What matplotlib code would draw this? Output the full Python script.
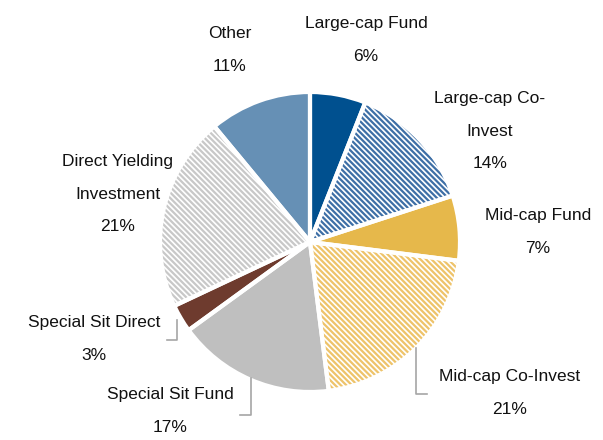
import matplotlib
matplotlib.use("Agg")
import matplotlib.pyplot as plt
from matplotlib import font_manager

names = {f.name for f in font_manager.fontManager.ttflist}
fam = [n for n in ["Liberation Sans Narrow", "Arial Narrow", "Liberation Sans", "DejaVu Sans"] if n in names]
plt.rcParams['font.family'] = fam
plt.rcParams['hatch.linewidth'] = 1.6

categories = ["Large-cap Fund", "Large-cap Co-\nInvest", "Mid-cap Fund", "Mid-cap Co-Invest",
              "Special Sit Fund", "Special Sit Direct", "Direct Yielding\nInvestment", "Other"]
values = [6, 14, 7, 21, 17, 3, 21, 11]
colors = ["#00508F", "#3E6FA6", "#E6B84B", "#EEC36A", "#BFBFBF", "#6E3B2E", "#C8C8C8", "#6690B5"]
hatched = [False, True, False, True, False, False, True, False]

W, H = 603, 440
fig = plt.figure(figsize=(W / 100, H / 100), dpi=100)
ax = fig.add_axes([0, 0, 1, 1])

def Y(y):
    return H - y

cx, cy, r = 310, 242, 150
wedges, _ = ax.pie(values, colors=colors, startangle=90, counterclock=False,
                   center=(cx, Y(cy)), radius=r, frame=True)
for w, c, h in zip(wedges, colors, hatched):
    w.set_linewidth(0)
    if h:
        w.set_facecolor("white")
        w.set_edgecolor(c)
        w.set_hatch("\\" * 6)
ax.pie(values, colors=colors, startangle=90, counterclock=False,
       center=(cx, Y(cy)), radius=r, frame=True,
       wedgeprops=dict(facecolor="none", edgecolor="white", linewidth=3))
ax.set_xlim(0, W)
ax.set_ylim(0, H)
ax.set_aspect('equal')
ax.axis('off')

labels = [f"{c}\n{v}%" for c, v in zip(categories, values)]
pos = [(366, 40), (490, 131), (538, 232), (510, 393), (170, 411), (94, 339), (118, 194), (230, 50)]
for t, (x, y) in zip(labels, pos):
    ax.text(x, Y(y), t, ha='center', va='center', fontsize=12.5, linespacing=2.45, color="#111111")

lc = "#A6A6A6"
ax.plot([416, 416, 427], [Y(348), Y(394), Y(394)], color=lc, lw=1.2)
ax.plot([251, 251, 240], [Y(378), Y(415), Y(415)], color=lc, lw=1.2)
ax.plot([177, 177, 167], [Y(320), Y(340), Y(340)], color=lc, lw=1.2)

fig.savefig("out.png", dpi=100)
